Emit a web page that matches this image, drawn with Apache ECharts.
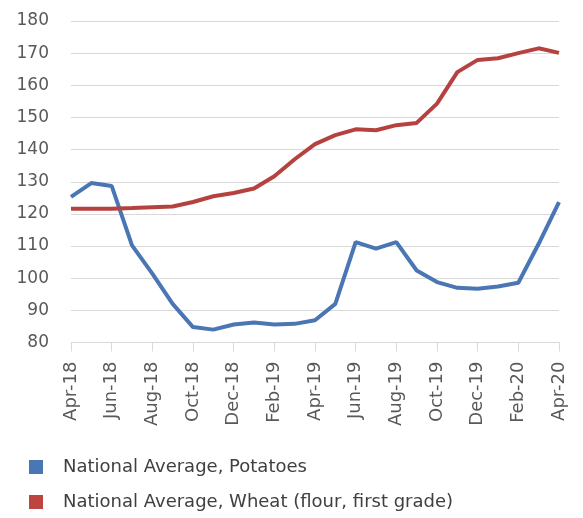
<!DOCTYPE html>
<html>
<head>
<meta charset="utf-8">
<script src="https://cdn.jsdelivr.net/npm/echarts@6/dist/echarts.min.js"></script>
<style>
html,body{margin:0;padding:0;background:#fff;}
#chart{width:583px;height:518px;}
</style>
</head>
<body>
<div id="chart"></div>
<script>
var categories = ["Apr-18","May-18","Jun-18","Jul-18","Aug-18","Sep-18","Oct-18","Nov-18","Dec-18","Jan-19","Feb-19","Mar-19","Apr-19","May-19","Jun-19","Jul-19","Aug-19","Sep-19","Oct-19","Nov-19","Dec-19","Jan-20","Feb-20","Mar-20","Apr-20"];
var potatoes = [125.3,129.6,128.7,110.2,101.4,92.0,84.8,84.0,85.6,86.2,85.6,85.8,86.9,92.0,111.2,109.2,111.2,102.4,98.8,97.0,96.7,97.4,98.6,110.7,123.7];
var wheat = [121.6,121.6,121.6,121.8,122.1,122.3,123.7,125.5,126.5,127.9,131.7,137.0,141.7,144.5,146.3,146.0,147.6,148.3,154.3,164.1,167.9,168.4,170.0,171.5,170.1];
var seriesNames = ["National Average, Potatoes","National Average, Wheat (flour, first grade)"];
var yMin = 80, yMax = 180, yStep = 10;

var chart = echarts.init(document.getElementById('chart'), null, {renderer:'canvas'});
var font = "'DejaVu Sans', sans-serif";
function legendAt(name, top) {
  return {
    orient: 'horizontal', left: 29, top: top,
    itemWidth: 14, itemHeight: 14, itemGap: 10,
    icon: 'rect', padding: 0,
    textStyle: {fontFamily: font, fontSize: 18, color: '#404040', padding: [0,0,0,15]},
    data: [name]
  };
}
chart.setOption({
  animation: false,
  backgroundColor: '#ffffff',
  grid: {left: 71, right: 24, top: 21, bottom: 175.5, containLabel: false},
  legend: [legendAt(seriesNames[0], 458), legendAt(seriesNames[1], 493)],
  xAxis: {
    type: 'category', data: categories, boundaryGap: false,
    axisLine: {lineStyle: {color: '#d9d9d9', width: 1}},
    axisTick: {show: true, interval: 1, length: 9, lineStyle: {color: '#d9d9d9'}},
    axisLabel: {interval: 1, rotate: 90, margin: 19, fontFamily: font, fontSize: 18, color: '#595959'},
    splitLine: {show: false}
  },
  yAxis: {
    type: 'value', min: yMin, max: yMax, interval: yStep,
    axisLine: {show: false}, axisTick: {show: false},
    axisLabel: {margin: 22, fontFamily: font, fontSize: 17, color: '#595959'},
    splitLine: {lineStyle: {color: '#d9d9d9', width: 1}}
  },
  series: [
    {name: seriesNames[0], type: 'line', data: potatoes, symbol: 'none', smooth: false,
     lineStyle: {color: '#4a76b4', width: 4}, itemStyle: {color: '#4a76b4'}},
    {name: seriesNames[1], type: 'line', data: wheat, symbol: 'none', smooth: false,
     lineStyle: {color: '#b5423f', width: 4}, itemStyle: {color: '#be4440'}}
  ]
});
</script>
</body>
</html>
